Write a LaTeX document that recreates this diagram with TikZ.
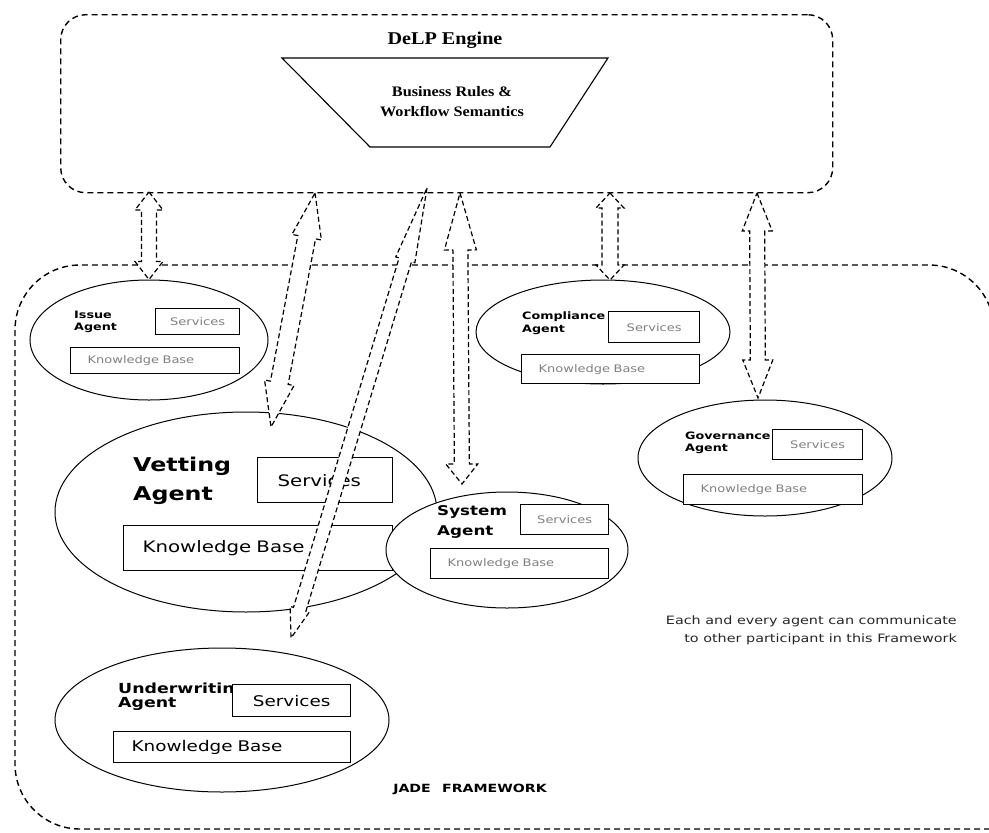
\documentclass[tikz,border=0pt]{standalone}
\usepackage{fontspec}
\setmainfont[FakeStretch=1.25]{DejaVu Sans}
\newfontfamily\delpfont[FakeStretch=1.12]{Liberation Serif}
\usetikzlibrary{shapes.geometric,calc,positioning}

\newcommand{\hollowarrow}[6]{%
  \path[link] (#1)
    -- ($(#1)!#3!(#2)!#5!90:(#2)$)
    -- ($(#1)!#3!(#2)!#6!90:(#2)$)
    -- ($(#2)!#4!(#1)!#6!-90:(#1)$)
    -- ($(#2)!#4!(#1)!#5!-90:(#1)$)
    -- (#2)
    -- ($(#2)!#4!(#1)!#5!90:(#1)$)
    -- ($(#2)!#4!(#1)!#6!90:(#1)$)
    -- ($(#1)!#3!(#2)!#6!-90:(#2)$)
    -- ($(#1)!#3!(#2)!#5!-90:(#2)$)
    -- cycle;}

\begin{document}
\begin{tikzpicture}[x=1pt,y=-1pt,
	frame/.style={draw,dash pattern=on 6pt off 4pt,line width=1.4pt,inner sep=0pt},
	agent/.style={draw,ellipse,fill=white,line width=1pt,inner sep=0pt},
	box/.style={draw,fill=white,line width=1.3pt,inner sep=0pt,anchor=north west},
	kb/.style={box,inner xsep=17pt,align=left},
	faint/.style={font=\fontsize{10.4}{12}\selectfont,text=black!50},
	agentlbl/.style={anchor=west,inner sep=0pt,align=left,font=\bfseries\fontsize{10.2}{12.5}\selectfont},
	link/.style={draw,fill=white,dash pattern=on 5pt off 3pt,line width=1.2pt}]
	\useasboundingbox (0,0) rectangle (989,833);
	\clip (0,0) rectangle (989,833);
	\draw[frame,rounded corners=65] (1000,829) -- (15,829) -- (15,265) -- (994,265) -- (994,860);
	\node[frame,rounded corners=25,minimum width=772,minimum height=178,anchor=north west] (delp) at (60,14) {};
	\node[font=\delpfont\bfseries\fontsize{18}{20}\selectfont] (engine) at (445,40) {DeLP Engine};
	\draw[line width=1.1pt] (282,58) -- (608,58) -- (550,147) -- (370,147) -- cycle;
	\node[align=center,font=\delpfont\bfseries\fontsize{14.5}{20}\selectfont] (rules) at (452,102) {Business Rules \&\\Workflow Semantics};
	\node[agent,minimum width=238,minimum height=120] (issue) at (149,340) {};
	\node[agentlbl] (issuename) at (74,322) {Issue\\Agent};
	\node[box,faint,minimum width=84,minimum height=26] (issuesvc) at (155,308) {Services};
	\node[kb,faint,text width=135,minimum height=26] (issuekb) at (70,347) {Knowledge Base};
	\node[agent,minimum width=254,minimum height=104] (compliance) at (603,332) {};
	\node[agentlbl] (compliancename) at (522,323) {Compliance\\Agent};
	\node[box,faint,minimum width=91,minimum height=31] (compliancesvc) at (608,311) {Services};
	\node[kb,faint,text width=144,minimum height=29] (compliancekb) at (521,354) {Knowledge Base};
	\node[agent,minimum width=254,minimum height=116] (governance) at (765,458) {};
	\node[agentlbl] (governancename) at (685,443) {Governance\\Agent};
	\node[box,faint,minimum width=90,minimum height=30] (governancesvc) at (772,429) {Services};
	\node[kb,faint,text width=145,minimum height=30] (governancekb) at (683,474) {Knowledge Base};
	\node[agent,minimum width=382,minimum height=200] (vetting) at (246,512) {};
	\node[agentlbl,font=\bfseries\fontsize{19}{29}\selectfont] (vettingname) at (133,481) {Vetting\\Agent};
	\node[box,minimum width=135,minimum height=45,inner xsep=20pt,text width=95,align=left,font=\fontsize{15.8}{18}\selectfont] (vettingsvc) at (257,457) {Services};
	\node[kb,inner xsep=19pt,text width=231,minimum height=45,font=\fontsize{15.8}{18}\selectfont] (vettingkb) at (123,525) {Knowledge Base};
	\coordinate (issuetop) at (149,192);
	\coordinate (vettop) at (315,193);
	\coordinate (vetend) at (271,427);
	\coordinate (undertop) at (427,188);
	\coordinate (underend) at (291,638);
	\coordinate (systop) at (460,193);
	\coordinate (sysend) at (462,484);
	\coordinate (comptop) at (610,193);
	\coordinate (compend) at (610,280);
	\coordinate (govtop) at (757,193);
	\coordinate (govend) at (758,398);
	\hollowarrow{issuetop}{issue.north}{18pt}{18pt}{14pt}{7.5pt}
	\hollowarrow{vettop}{vetend}{45pt}{45pt}{15pt}{9pt}
	\hollowarrow{undertop}{underend}{75pt}{30pt}{10pt}{6.5pt}
	\hollowarrow{systop}{sysend}{57pt}{20pt}{16pt}{7.5pt}
	\hollowarrow{comptop}{compend}{15pt}{15pt}{14pt}{8pt}
	\hollowarrow{govtop}{govend}{38pt}{38pt}{15pt}{7.5pt}
	\node[agent,minimum width=242,minimum height=116] (system) at (507,550) {};
	\node[agentlbl,font=\bfseries\fontsize{13.4}{20}\selectfont] (systemname) at (437,522) {System\\Agent};
	\node[box,faint,minimum width=88,minimum height=30] (systemsvc) at (520,504) {Services};
	\node[kb,faint,text width=144,minimum height=30] (systemkb) at (430,548) {Knowledge Base};
	\node[agent,minimum width=334,minimum height=144] (under) at (222,720) {};
	\node[agentlbl,font=\bfseries\fontsize{13.9}{11}\selectfont] (undername) at (118,697) {Underwriting\\Agent};
	\node[box,minimum width=118,minimum height=32,font=\fontsize{14.7}{16}\selectfont] (undersvc) at (232,684) {Services};
	\node[kb,inner xsep=18pt,text width=201,minimum height=31,font=\fontsize{14.7}{16}\selectfont] (underkb) at (113,731) {Knowledge Base};
	\node[anchor=north east,align=right,inner sep=0pt,text=black!85,font=\fontsize{11.5}{18}\selectfont] (note) at (957,616) {Each and every agent can communicate\\to other participant in this Framework};
	\node[font=\bfseries\fontsize{11.3}{13}\selectfont] (jadename) at (470,789) {JADE\quad FRAMEWORK};
\end{tikzpicture}
\end{document}
